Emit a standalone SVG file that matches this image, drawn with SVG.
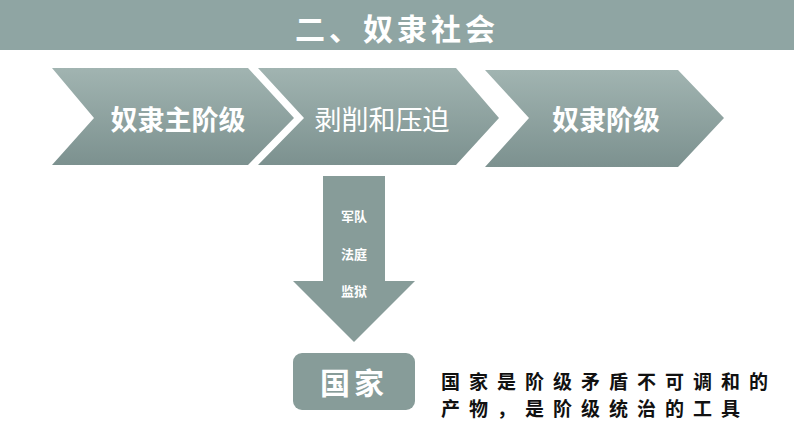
<svg xmlns="http://www.w3.org/2000/svg" width="794" height="447" viewBox="0 0 794 447">
<defs>
<linearGradient id="g" x1="0" y1="0" x2="0" y2="1"><stop offset="0" stop-color="#a1b4b1"/><stop offset="1" stop-color="#7c918f"/></linearGradient>
<style>
.ch{fill:url(#g);}
.t{font-family:"Noto Sans CJK SC",sans-serif;fill:#fff;text-anchor:middle;dominant-baseline:central;}
.b{font-weight:bold;}
.k{font-family:"Noto Sans CJK SC",sans-serif;font-weight:bold;font-size:19px;fill:#111;letter-spacing:9px;}
</style>
</defs>
<rect x="0" y="0" width="794" height="50" fill="#8fa5a3"/>
<text x="397" y="27" class="t b" font-size="30" letter-spacing="4">二、奴隶社会</text>
<g id="n1"><polygon class="ch" points="52,68 248,68 294,118 248,165 52,165 94,118"/><text x="178" y="118" class="t b" font-size="27">奴隶主阶级</text></g>
<g id="n2"><polygon class="ch" points="258,68 456,68 499,118 456,165 258,165 304,118"/><text x="382" y="118" class="t" font-size="27">剥削和压迫</text></g>
<g id="n3"><polygon class="ch" points="485,70 678,70 724,118 678,167 485,167 529,118"/><text x="606" y="118" class="t b" font-size="27">奴隶阶级</text></g>
<g id="connectors"><polygon fill="#879c99" points="323,176 385,176 385,281 415,281 354,342 293,281 323,281"/>
<text x="354" y="215" class="t b" font-size="13">军队</text>
<text x="354" y="253" class="t b" font-size="13">法庭</text>
<text x="354" y="290" class="t b" font-size="13">监狱</text></g>
<g id="n4"><rect x="293" y="353" width="122" height="57" rx="9" fill="#879c99"/><text x="354" y="381" class="t b" font-size="30" letter-spacing="4">国家</text></g>
<g id="note"><text x="441" y="389" class="k">国家是阶级矛盾不可调和的</text><text x="441" y="416" class="k">产物，是阶级统治的工具</text></g>
</svg>
